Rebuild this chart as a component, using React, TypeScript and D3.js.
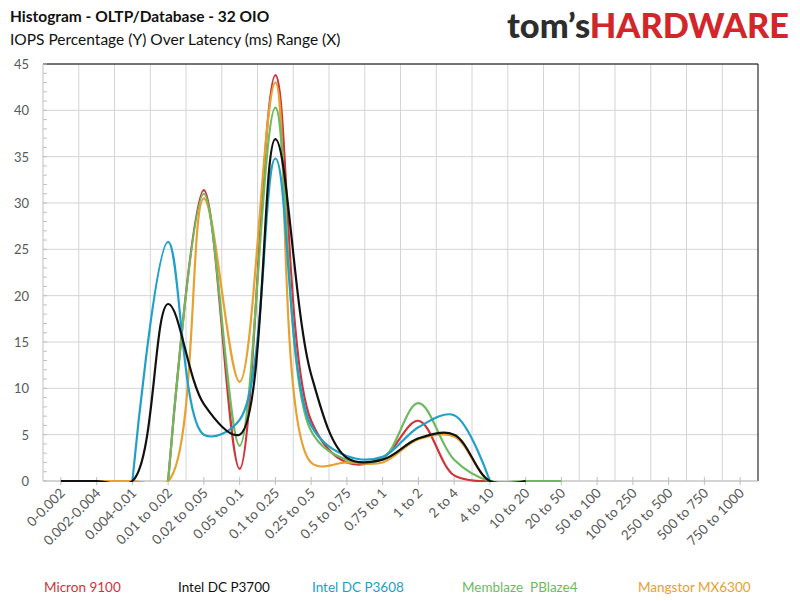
import React from "react";
import * as d3 from "d3";

const categories = ["0-0.002", "0.002-0.004", "0.004-0.01", "0.01 to 0.02", "0.02 to 0.05", "0.05 to 0.1", "0.1 to 0.25", "0.25 to 0.5", "0.5 to 0.75", "0.75 to 1", "1 to 2", "2 to 4", "4 to 10", "10 to 20", "20 to 50", "50 to 100", "100 to 250", "250 to 500", "500 to 750", "750 to 1000"];
type V = number | null;
const micron: V[] = [null, null, null, 0, 31.4, 1.3, 43.8, 6.5, 2.0, 2.5, 6.5, 0.6, 0, null, null, null, null, null, null, null];
const p3700: V[] = [0, 0, 0, 19.1, 8.3, 5.0, 36.9, 11.5, 2.5, 2.3, 4.6, 5.0, 0, 0, null, null, null, null, null, null];
const p3608: V[] = [null, null, 0, 25.8, 5.0, 6.6, 34.8, 6.0, 2.7, 2.6, 5.8, 7.1, 0, null, null, null, null, null, null, null];
const pblaze: V[] = [null, null, null, 0, 31.0, 3.8, 40.3, 5.4, 2.3, 2.4, 8.4, 2.3, 0, 0, 0, null, null, null, null, null];
const mx6300: V[] = [null, 0, 0, 0, 30.5, 10.7, 43.0, 2.0, 2.0, 2.0, 4.5, 4.8, 0, 0, null, null, null, null, null, null];
const yTicks = [0, 5, 10, 15, 20, 25, 30, 35, 40, 45];

const series = [
  { name: "Micron 9100", values: micron, color: "#d0343a", lx: 44 },
  { name: "Mangstor MX6300", values: mx6300, color: "#e8a030", lx: 638 },
  { name: "Memblaze  PBlaze4", values: pblaze, color: "#6cba5e", lx: 462 },
  { name: "Intel DC P3608", values: p3608, color: "#20a0c8", lx: 312 },
  { name: "Intel DC P3700", values: p3700, color: "#111111", lx: 178 },
];
const legendOrder = [0, 4, 3, 2, 1];

const left = 43, right = 758, top = 64, bottom = 481;
const font = "Lato, 'Open Sans', sans-serif";

export default function App() {
  const x = d3.scaleBand<string>().domain(categories).range([left, right]);
  const cx = (i: number) => (x(categories[i]) ?? 0) + x.bandwidth() / 2;
  const y = d3.scaleLinear().domain([0, 45]).range([bottom, top]);
  const minor = d3.range(0, 46, 1);

  const line = d3
    .line<V>()
    .defined((d) => d !== null)
    .x((_, i) => cx(i))
    .y((d) => y(d as number))
    .curve(d3.curveCatmullRom.alpha(0.5));

  return (
    <svg width={800} height={601} style={{ position: "absolute", left: 0, top: 0, background: "#fff" }}>
      <defs>
        <clipPath id="plotclip">
          <rect x={0} y={0} width={800} height={bottom + 1} />
        </clipPath>
      </defs>
      <text x={10} y={22} fontFamily={font} fontWeight="bold" fontSize={15.5} fill="#111">Histogram - OLTP/Database - 32 OIO</text>
      <text x={10} y={45} fontFamily={font} fontSize={15.5} fill="#111">IOPS Percentage (Y) Over Latency (ms) Range (X)</text>
      <text x={507} y={38} fontFamily={font} fontWeight="900" fontSize={35} textLength={282} lengthAdjust="spacingAndGlyphs">
        <tspan fill="#2d2d2d">tom’s</tspan>
        <tspan fill="#d3262b">HARDWARE</tspan>
      </text>

      {yTicks.map((t) => (
        <line key={"h" + t} x1={left} x2={right} y1={y(t)} y2={y(t)} stroke="#d4d4d4" />
      ))}
      {d3.range(1, 20).map((k) => (
        <line key={"v" + k} x1={left + k * x.step()} x2={left + k * x.step()} y1={top} y2={bottom} stroke="#d4d4d4" />
      ))}
      <line x1={left} x2={right} y1={top} y2={top} stroke="#000" />
      <line x1={right} x2={right} y1={top} y2={bottom} stroke="#000" />
      <line x1={left} x2={left} y1={top} y2={bottom} stroke="#bfbfbf" />
      <line x1={left} x2={right} y1={bottom} y2={bottom} stroke="#bfbfbf" />
      {minor.map((m) => (
        <line key={"m" + m} x1={left} x2={left + 4} y1={y(m)} y2={y(m)} stroke="#bfbfbf" />
      ))}
      {categories.map((c, i) => (
        <line key={"t" + c} x1={cx(i)} x2={cx(i)} y1={bottom - 4} y2={bottom + 4} stroke="#bfbfbf" />
      ))}
      {yTicks.map((t) => (
        <text key={"yl" + t} x={29} y={y(t) + 5} textAnchor="end" fontFamily={font} fontSize={13} fill="#595959">{t}</text>
      ))}
      {categories.map((c, i) => (
        <text key={"xl" + c} transform={`translate(${cx(i) + 5},${bottom + 13}) rotate(-45)`} textAnchor="end" fontFamily={font} fontSize={13.5} fill="#595959">{c}</text>
      ))}

      <g clipPath="url(#plotclip)">
        {series.map((s) => (
          <path key={s.name} d={line(s.values) ?? ""} fill="none" stroke={s.color} strokeWidth={2.2} />
        ))}
      </g>

      {legendOrder.map((k) => (
        <text key={"lg" + k} x={series[k].lx} y={592} fontFamily={font} fontSize={13.5} fill={series[k].color} xmlSpace="preserve">{series[k].name}</text>
      ))}
    </svg>
  );
}
